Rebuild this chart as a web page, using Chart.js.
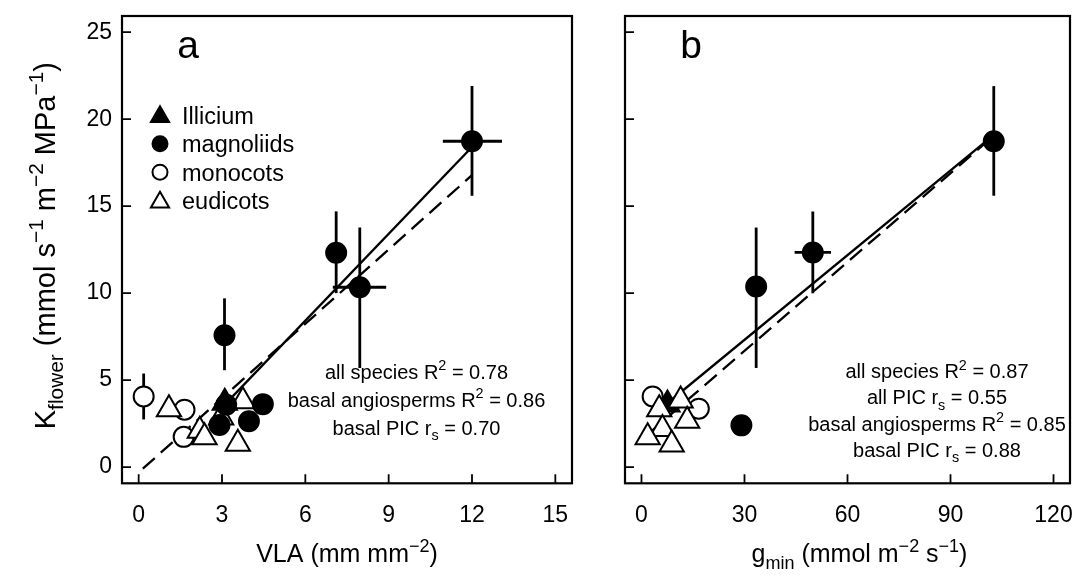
<!DOCTYPE html>
<html><head><meta charset="utf-8">
<script src="https://cdn.jsdelivr.net/npm/chart.js@4.4.1/dist/chart.umd.min.js"></script>
<style>
html,body{margin:0;padding:0;background:#fff;}
#wrap{position:relative;width:1086px;height:588px;overflow:hidden;}
.cv{position:absolute;top:0;}
</style></head><body>
<div id="wrap">
<canvas id="ca" class="cv" width="600" height="588" style="left:0;width:600px;height:588px"></canvas>
<canvas id="cb" class="cv" width="486" height="588" style="left:600px;width:486px;height:588px"></canvas>
</div>
<script>
// ---------- tick labels ----------
const xTicksA = [0, 3, 6, 9, 12, 15];
const xTicksB = [0, 30, 60, 90, 120];
const yTicks = [0, 5, 10, 15, 20, 25];

// ---------- panel a : VLA ----------
const illiciumA_x = [3.1];
const illiciumA_y = [3.7];
const magnoliidsA_x = [12.0, 7.11, 7.96, 3.09, 3.15, 2.91, 3.97, 4.47];
const magnoliidsA_y = [18.73, 12.32, 10.34, 7.58, 3.59, 2.42, 2.64, 3.62];
const monocotsA_x = [0.18, 1.65, 1.62];
const monocotsA_y = [4.06, 3.3, 1.74];
const eudicotsA_x = [1.09, 2.2, 2.37, 2.97, 3.75, 3.57];
const eudicotsA_y = [3.32, 2.09, 1.72, 2.85, 3.79, 1.34];
// error bars (null = none)
const errA_x   = [12.0, 7.11, 7.96, 3.09, 0.18];
const errA_y   = [18.73, 12.32, 10.34, 7.58, 4.06];
const errA_xlo = [10.95, null, 6.99, null, null];
const errA_xhi = [13.08, null, 8.91, null, null];
const errA_ylo = [15.6, 10.0, 5.7, 5.57, 2.74];
const errA_yhi = [21.9, 14.7, 13.77, 9.7, 5.38];
// fitted lines (end points)
const fitA_solid_x = [2.9, 12.0];
const fitA_solid_y = [3.26, 18.4];
const fitA_dash_x = [0.15, 12.0];
const fitA_dash_y = [-0.09, 16.78];

// ---------- panel b : gmin ----------
const illiciumB_x = [7.56];
const illiciumB_y = [3.6];
const magnoliidsB_x = [102.6, 49.9, 33.4, 29.1];
const magnoliidsB_y = [18.73, 12.34, 10.38, 2.4];
const monocotsB_x = [3.25, 16.7];
const monocotsB_y = [4.06, 3.36];
const eudicotsB_x = [5.17, 11.4, 13.3, 6.1, 1.8, 8.8];
const eudicotsB_y = [3.32, 3.83, 2.66, 2.19, 1.72, 1.30];
const errB_x   = [102.6, 49.9, 33.4];
const errB_y   = [18.73, 12.34, 10.38];
const errB_xlo = [null, 44.6, null];
const errB_xhi = [null, 55.2, null];
const errB_ylo = [15.6, 10.0, 5.7];
const errB_yhi = [21.9, 14.7, 13.77];
const fitB_solid_x = [7.1, 102.6];
const fitB_solid_y = [3.6, 19.1];
const fitB_dash_x = [2.5, 102.6];
const fitB_dash_y = [2.0, 19.04];

// ---------- texts ----------
const legendLabels = ['Illicium', 'magnoliids', 'monocots', 'eudicots'];
const statsA = [
  [{t:'all species R'},{t:'2',s:'sup'},{t:' = 0.78'}],
  [{t:'basal angiosperms R'},{t:'2',s:'sup'},{t:' = 0.86'}],
  [{t:'basal PIC r'},{t:'s',s:'sub'},{t:' = 0.70'}]
];
const statsB = [
  [{t:'all species R'},{t:'2',s:'sup'},{t:' = 0.87'}],
  [{t:'all PIC r'},{t:'s',s:'sub'},{t:' = 0.55'}],
  [{t:'basal angiosperms R'},{t:'2',s:'sup'},{t:' = 0.85'}],
  [{t:'basal PIC r'},{t:'s',s:'sub'},{t:' = 0.88'}]
];
const xTitleA = [{t:'VLA (mm mm'},{t:'\u22122',s:'sup'},{t:')'}];
const xTitleB = [{t:'g'},{t:'min',s:'sub'},{t:' (mmol m'},{t:'\u22122',s:'sup'},{t:' s'},{t:'\u22121',s:'sup'},{t:')'}];
const yTitle = [{t:'K'},{t:'flower',s:'sub'},{t:' (mmol s'},{t:'\u22121',s:'sup'},{t:' m'},{t:'\u22122',s:'sup'},{t:' MPa'},{t:'\u22121',s:'sup'},{t:')'}];

const FONT = '"Liberation Sans", Arial, Helvetica, sans-serif';
const zip = (xs, ys) => xs.map((x, i) => ({x, y: ys[i]}));

function richText(ctx, segs, x, y, size, align) {
  const small = size * 0.72;
  let w = 0;
  const ws = segs.map(sg => { ctx.font = (sg.s ? small : size) + 'px ' + FONT; const m = ctx.measureText(sg.t).width; w += m; return m; });
  let cx = align === 'center' ? x - w / 2 : (align === 'right' ? x - w : x);
  ctx.textBaseline = 'alphabetic';
  ctx.textAlign = 'left';
  segs.forEach((sg, i) => {
    ctx.font = (sg.s ? small : size) + 'px ' + FONT;
    const dy = sg.s === 'sup' ? -size * 0.42 : (sg.s === 'sub' ? size * 0.26 : 0);
    ctx.fillText(sg.t, cx, y + dy);
    cx += ws[i];
  });
}

function drawMarker(ctx, type, x, y, r, filled) {
  ctx.beginPath();
  if (type === 'circle') {
    ctx.arc(x, y, r, 0, Math.PI * 2);
  } else {
    const a = Math.PI * 2 / 3;
    ctx.moveTo(x, y - r);
    ctx.lineTo(x + Math.sin(a) * r, y - Math.cos(a) * r);
    ctx.lineTo(x + Math.sin(2 * a) * r, y - Math.cos(2 * a) * r);
    ctx.closePath();
  }
  ctx.fillStyle = filled ? '#000' : '#fff';
  ctx.fill();
  ctx.lineWidth = 2;
  ctx.strokeStyle = '#000';
  ctx.stroke();
}

function panelPlugin(cfg) {
  return {
    id: 'panel',
    beforeDatasetsDraw(chart) {
      const ctx = chart.ctx, xs = chart.scales.x, ys = chart.scales.y;
      ctx.save();
      ctx.strokeStyle = '#000';
      ctx.lineWidth = 2.8;
      cfg.err.x.forEach((xv, i) => {
        const px = xs.getPixelForValue(xv), py = ys.getPixelForValue(cfg.err.y[i]);
        ctx.beginPath();
        ctx.moveTo(px, ys.getPixelForValue(cfg.err.ylo[i]));
        ctx.lineTo(px, ys.getPixelForValue(cfg.err.yhi[i]));
        if (cfg.err.xlo[i] !== null) {
          ctx.moveTo(xs.getPixelForValue(cfg.err.xlo[i]), py);
          ctx.lineTo(xs.getPixelForValue(cfg.err.xhi[i]), py);
        }
        ctx.stroke();
      });
      ctx.restore();
    },
    afterDraw(chart) {
      const ctx = chart.ctx, ca = chart.chartArea, xs = chart.scales.x, ys = chart.scales.y;
      ctx.save();
      // box
      ctx.strokeStyle = '#000';
      ctx.lineWidth = 2.2;
      ctx.strokeRect(ca.left, ca.top, ca.right - ca.left, ca.bottom - ca.top);
      // inward ticks
      ctx.lineWidth = 1.8;
      ctx.beginPath();
      xs.ticks.forEach(t => { const p = xs.getPixelForValue(t.value); ctx.moveTo(p, ca.bottom); ctx.lineTo(p, ca.bottom - 9); });
      ys.ticks.forEach(t => { const p = ys.getPixelForValue(t.value); ctx.moveTo(ca.left, p); ctx.lineTo(ca.left + 9, p); });
      ctx.stroke();
      ctx.fillStyle = '#000';
      // panel letter
      ctx.font = '39px ' + FONT;
      ctx.textAlign = 'center';
      ctx.textBaseline = 'alphabetic';
      ctx.fillText(cfg.letter, ca.left + 66, 58);
      // legend
      if (cfg.legend) {
        const rows = [['triangle', true], ['circle', true], ['circle', false], ['triangle', false]];
        rows.forEach((r, i) => {
          const cy = ca.top + 99.2 + i * 28.5;
          drawMarker(ctx, r[0], ca.left + 38, cy + (r[0] === 'triangle' ? 1.5 : 0), r[0] === 'triangle' ? 10.5 : 7.5, r[1]);
          ctx.fillStyle = '#000';
          ctx.font = '23.5px ' + FONT;
          ctx.textAlign = 'left';
          ctx.textBaseline = 'alphabetic';
          ctx.fillText(legendLabels[i], ca.left + 60, cy + 8.5);
        });
      }
      // stats
      ctx.fillStyle = '#000';
      cfg.stats.forEach((segs, i) => richText(ctx, segs, cfg.statsX, cfg.statsY0 + i * cfg.statsDy, 20, 'center'));
      // x title
      richText(ctx, cfg.xTitle, (ca.left + ca.right) / 2 + cfg.xTitleShift, 562, 25, 'center');
      // y title
      if (cfg.yTitle) {
        ctx.save();
        ctx.translate(55, (ca.top + ca.bottom) / 2 - 4);
        ctx.rotate(-Math.PI / 2);
        richText(ctx, cfg.yTitle, 0, 0, 29, 'center');
        ctx.restore();
      }
      ctx.restore();
    }
  };
}

function makeChart(id, d, xmin, xmax, xticks, yAxisW, padRight, showY, cfg) {
  const pt = (label, xsA, ysA, style, filled, r) => ({
    type: 'scatter', label, data: zip(xsA, ysA), pointStyle: style,
    pointRadius: r, pointHoverRadius: r,
    pointBackgroundColor: filled ? '#000' : '#fff', pointBorderColor: '#000', pointBorderWidth: 2
  });
  const ln = (xsA, ysA, dash) => ({
    type: 'line', data: zip(xsA, ysA), borderColor: '#000', borderWidth: 2.3,
    borderDash: dash, pointRadius: 0, fill: false, tension: 0
  });
  return new Chart(document.getElementById(id), {
    data: {
      datasets: [
        pt('magnoliids', d.magX, d.magY, 'circle', true, 10),
        pt('eudicots', d.eudX, d.eudY, 'triangle', false, 14),
        pt('Illicium', d.illX, d.illY, 'triangle', true, 14),
        pt('monocots', d.monX, d.monY, 'circle', false, 10),
        ln(d.solX, d.solY, []),
        ln(d.dashX, d.dashY, [16, 8])
      ]
    },
    options: {
      responsive: false, animation: false, devicePixelRatio: 1,
      layout: { padding: { top: 8.8, right: padRight, left: 0, bottom: 0 } },
      plugins: { legend: { display: false }, tooltip: { enabled: false } },
      scales: {
        x: {
          type: 'linear', min: xmin, max: xmax,
          afterBuildTicks: s => { s.ticks = xticks.map(v => ({ value: v })); },
          afterFit: s => { s.height = 104.7; s.paddingLeft = 0; s.paddingRight = 0; },
          grid: { display: false, drawTicks: false }, border: { display: false },
          ticks: { color: '#000', font: { family: FONT, size: 23 }, padding: 19, maxRotation: 0, autoSkip: false }
        },
        y: {
          type: 'linear', min: -0.93, max: 25.93,
          afterBuildTicks: s => { s.ticks = yTicks.map(v => ({ value: v })); },
          afterFit: s => { s.width = yAxisW; s.paddingTop = 0; s.paddingBottom = 0; },
          grid: { display: false, drawTicks: false }, border: { display: false },
          ticks: { display: showY, color: '#000', font: { family: FONT, size: 23 }, padding: 10 }
        }
      }
    },
    plugins: [panelPlugin(cfg)]
  });
}

makeChart('ca', {
  magX: magnoliidsA_x, magY: magnoliidsA_y, eudX: eudicotsA_x, eudY: eudicotsA_y,
  illX: illiciumA_x, illY: illiciumA_y, monX: monocotsA_x, monY: monocotsA_y,
  solX: fitA_solid_x, solY: fitA_solid_y, dashX: fitA_dash_x, dashY: fitA_dash_y
}, -0.6, 15.6, xTicksA, 122, 28, true, {
  letter: 'a', legend: true,
  err: { x: errA_x, y: errA_y, xlo: errA_xlo, xhi: errA_xhi, ylo: errA_ylo, yhi: errA_yhi },
  stats: statsA, statsX: 416.5, statsY0: 378.5, statsDy: 28,
  xTitle: xTitleA, xTitleShift: 0, yTitle: yTitle
});

makeChart('cb', {
  magX: magnoliidsB_x, magY: magnoliidsB_y, eudX: eudicotsB_x, eudY: eudicotsB_y,
  illX: illiciumB_x, illY: illiciumB_y, monX: monocotsB_x, monY: monocotsB_y,
  solX: fitB_solid_x, solY: fitB_solid_y, dashX: fitB_dash_x, dashY: fitB_dash_y
}, -4.8, 124.8, xTicksB, 25, 10, false, {
  letter: 'b', legend: false,
  err: { x: errB_x, y: errB_y, xlo: errB_xlo, xhi: errB_xhi, ylo: errB_ylo, yhi: errB_yhi },
  stats: statsB, statsX: 337, statsY0: 378.3, statsDy: 26.1,
  xTitle: xTitleB, xTitleShift: 12, yTitle: null
});
</script>
</body></html>
